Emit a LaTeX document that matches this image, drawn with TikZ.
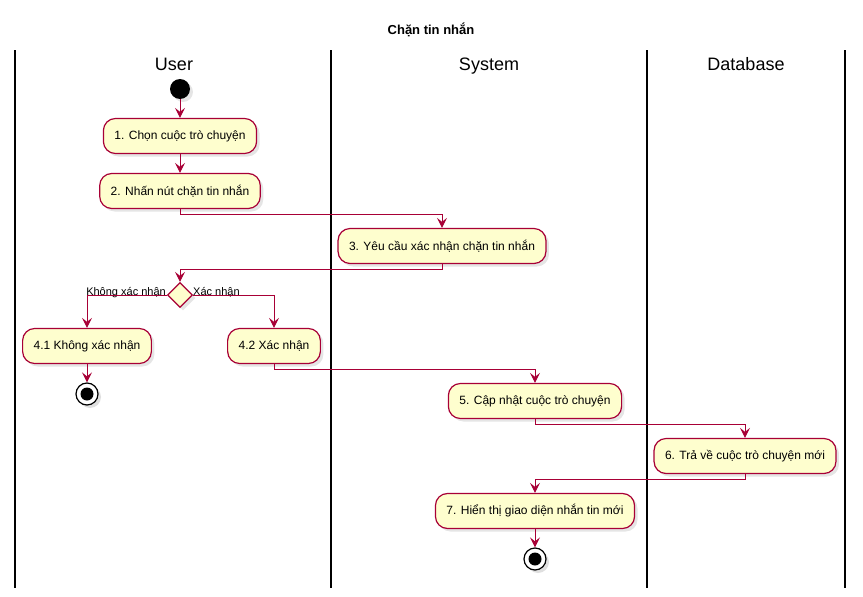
\documentclass[tikz,border=0pt]{standalone}
\usepackage{fontspec}
\setmainfont{Liberation Sans}
\usepackage{tikz}
\usetikzlibrary{arrows.meta,positioning,shapes.geometric,shadows}
\definecolor{umlred}{HTML}{A80036}
\definecolor{umlfill}{HTML}{FEFECE}

\begin{document}
\begin{tikzpicture}[
  x=1pt,y=-1pt,
  act/.style={draw=umlred,line width=1.2pt,fill=umlfill,rounded corners=12pt,minimum height=35pt,inner xsep=11pt,font=\fontsize{12}{14}\selectfont,drop shadow={shadow xshift=3pt,shadow yshift=-3pt,fill=black!20}},
  choice/.style={diamond,aspect=1,draw=umlred,line width=1.2pt,fill=umlfill,minimum size=25pt,inner sep=0pt,drop shadow={shadow xshift=3pt,shadow yshift=-3pt,fill=black!20}},
  startnode/.style={circle,fill=black,minimum size=20pt,inner sep=0pt,drop shadow={shadow xshift=3pt,shadow yshift=-3pt,fill=black!20}},
  stopnode/.style={circle,draw=black,line width=1.2pt,fill=white,minimum size=22pt,inner sep=0pt,drop shadow={shadow xshift=3pt,shadow yshift=-3pt,fill=black!25},
    path picture={\fill[black] (path picture bounding box.center) circle (6.5pt);}},
  arr/.style={-{Stealth[length=10pt,width=10pt,inset=4pt]},umlred,line width=0.9pt},
  lane/.style={line width=1.6pt},
  head/.style={font=\fontsize{18}{20}\selectfont,anchor=base},
  lab/.style={font=\fontsize{11}{12}\selectfont,inner sep=1pt}]
  \useasboundingbox (0,0) rectangle (863,597);
  % title and swimlanes
  \node[font=\bfseries\fontsize{13}{15}\selectfont] (title) at (431,30) {Chặn tin nhắn};
  \foreach \lx in {15,331,647,845}
    \draw[lane] (\lx,50) -- (\lx,588);
  \node[head] (hUser) at (174,70) {User};
  \node[head] (hSys) at (489,70) {System};
  \node[head] (hDb) at (746,70) {Database};
  % activities
  \node[startnode] (start) at (180,89) {};
  \node[act] (act1) at (180,136) {1. Chọn cuộc trò chuyện};
  \node[act] (act2) at (180,191) {2. Nhấn nút chặn tin nhắn};
  \node[act] (act3) at (442,246) {3. Yêu cầu xác nhận chặn tin nhắn};
  \node[choice] (dec) at (180,295) {};
  \node[lab,anchor=base east] (lNo) at (167,295) {Không xác nhận};
  \node[lab,anchor=base west] (lYes) at (192,295) {Xác nhận};
  \node[act] (act41) at (87,346) {4.1 Không xác nhận};
  \node[act] (act42) at (274,346) {4.2 Xác nhận};
  \node[stopnode] (stop1) at (87,394) {};
  \node[act] (act5) at (535,401) {5. Cập nhật cuộc trò chuyện};
  \node[act] (act6) at (745,456) {6. Trả về cuộc trò chuyện mới};
  \node[act] (act7) at (535,511) {7. Hiển thị giao diện nhắn tin mới};
  \node[stopnode] (stop2) at (535,559) {};
  % flows
  \draw[arr] (start) -- (act1);
  \draw[arr] (act1) -- (act2);
  \draw[arr] (act2.south) -- ++(0,5) -| (act3.north);
  \draw[arr] (act3.south) -- ++(0,5) -| (dec.north);
  \draw[arr] (dec.west) -| (act41.north);
  \draw[arr] (dec.east) -| (act42.north);
  \draw[arr] (act41) -- (stop1);
  \draw[arr] (act42.south) -- ++(0,5) -| (act5.north);
  \draw[arr] (act5.south) -- ++(0,5) -| (act6.north);
  \draw[arr] (act6.south) -- ++(0,5) -| (act7.north);
  \draw[arr] (act7) -- (stop2);
\end{tikzpicture}
\end{document}
